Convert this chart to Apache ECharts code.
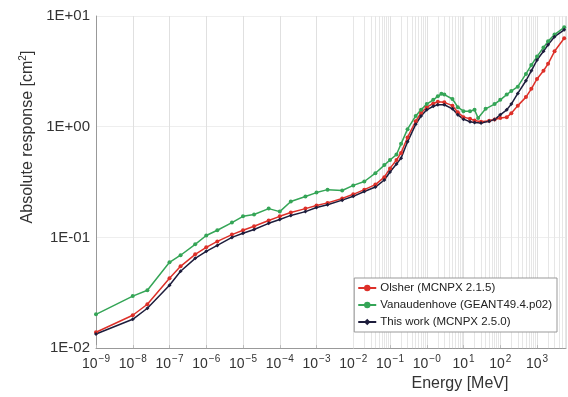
<!DOCTYPE html>
<html>
<head>
<meta charset="utf-8">
<script src="https://cdn.jsdelivr.net/npm/echarts@6/dist/echarts.min.js"></script>
<style>
html, body { margin: 0; padding: 0; background: #fff; }
#chart { width: 568px; height: 397px; }
</style>
</head>
<body>
<div id="chart"></div>
<script>
// energies in MeV, responses in cm^2
var energyLow = [1e-9, 1e-8, 2.5e-8, 1e-7, 2e-7, 5e-7, 1e-6, 2e-6, 5e-6, 1e-5, 2e-5, 5e-5, 1e-4, 2e-4, 5e-4, 1e-3,
                 2e-3, 5e-3, 1e-2, 2e-2, 4e-2, 7e-2, 0.1, 0.15, 0.2, 0.3, 0.5, 0.7, 1, 1.5, 2, 3, 5, 7, 10, 15, 20, 30, 50, 70,
                 100, 150, 200, 300, 500, 700, 1000, 1500, 2000, 3000, 5500];
var olsher = [0.0139, 0.0198, 0.0249, 0.0428, 0.0548, 0.0703, 0.0813, 0.092, 0.106, 0.116, 0.126, 0.142, 0.155, 0.168, 0.182, 0.194,
              0.205, 0.225, 0.245, 0.27, 0.30, 0.35, 0.42, 0.50, 0.58, 0.80, 1.12, 1.33, 1.5, 1.62, 1.68, 1.66, 1.55, 1.35, 1.22, 1.18, 1.14, 1.11, 1.13, 1.16,
              1.2, 1.22, 1.32, 1.55, 1.85, 2.2, 2.7, 3.2, 3.7, 4.8, 6.3];
var thisWork = [0.0134, 0.0182, 0.0229, 0.037, 0.0494, 0.0647, 0.0748, 0.0847, 0.100, 0.109, 0.118, 0.134, 0.145, 0.158, 0.171, 0.186,
                0.197, 0.217, 0.235, 0.26, 0.285, 0.33, 0.39, 0.46, 0.52, 0.73, 1.05, 1.25, 1.42, 1.53, 1.58, 1.58, 1.45, 1.28, 1.17, 1.11, 1.09, 1.08, 1.12, 1.16,
                1.28, 1.42, 1.6, 2.0, 2.6, 3.2, 4.0, 4.8, 5.5, 6.5, 7.5];

var energyGeant = [1e-9, 1e-8, 2.5e-8, 1e-7, 2e-7, 5e-7, 1e-6, 2e-6, 5e-6, 1e-5, 2e-5, 5e-5, 1e-4, 2e-4, 5e-4, 1e-3,
                   2e-3, 5e-3, 1e-2, 2e-2, 4e-2, 7e-2, 0.1, 0.15, 0.2, 0.3, 0.5, 0.7, 1, 1.5, 2, 2.5, 3, 5, 7, 10, 15, 20, 25, 40, 70,
                   100, 150, 200, 300, 500, 700, 1000, 1500, 2000, 3000, 5500];
var vanaudenhove = [0.0202, 0.0295, 0.0333, 0.0596, 0.069, 0.0865, 0.104, 0.116, 0.136, 0.155, 0.161, 0.182, 0.171, 0.211, 0.234, 0.254,
                    0.27, 0.265, 0.295, 0.32, 0.38, 0.45, 0.50, 0.56, 0.70, 0.95, 1.25, 1.42, 1.6, 1.75, 1.88, 1.98, 1.95, 1.78, 1.5, 1.38, 1.38, 1.42, 1.2, 1.45, 1.6,
                    1.75, 1.95, 2.1, 2.3, 3.0, 3.6, 4.3, 5.2, 5.9, 6.8, 7.9];

var seriesNames = ['Olsher (MCNPX 2.1.5)', 'Vanaudenhove (GEANT49.4.p02)', 'This work (MCNPX 2.5.0)'];
var seriesColors = ['#dd3029', '#35a557', '#1d1d3c'];

function pairs(xs, ys) {
    var out = [];
    for (var i = 0; i < xs.length; i++) out.push([xs[i], ys[i]]);
    return out;
}

// light vertical lines at 2..9 of every decade
var minorLines = [];
for (var p = -9; p <= 3; p++) {
    for (var k = 2; k <= 9; k++) {
        var v = k * Math.pow(10, p);
        if (v < 6150) minorLines.push({xAxis: v});
    }
}

var chart = echarts.init(document.getElementById('chart'));

function lineSeries(name, data, color, symbol) {
    return {
        name: name,
        type: 'line',
        data: data,
        z: 5,
        symbol: symbol,
        symbolSize: 4,
        showSymbol: true,
        color: color,
        lineStyle: {width: 1.5, color: color},
        itemStyle: {color: color}
    };
}

var option = {
    animation: false,
    backgroundColor: '#fff',
    textStyle: {fontFamily: 'Liberation Sans, Arial, sans-serif'},
    grid: {left: 96, right: 2, top: 16, bottom: 48},
    legend: {
        data: seriesNames,
        orient: 'vertical',
        right: 11,
        top: 278,
        padding: [4, 5, 4, 3],
        itemGap: 5,
        itemWidth: 18,
        itemHeight: 8,
        borderColor: '#999',
        borderWidth: 1,
        backgroundColor: '#fff',
        textStyle: {fontSize: 11.5, color: '#222', padding: [0, 0, 0, -1]}
    },
    xAxis: {
        type: 'log',
        logBase: 10,
        min: 1e-9,
        max: 6150,
        interval: 1,
        splitNumber: 13,
        name: 'Energy [MeV]',
        nameLocation: 'middle',
        nameGap: 27,
        nameTextStyle: {fontSize: 16, color: '#333', padding: [0, 0, 0, 258]},
        axisLine: {lineStyle: {color: '#999'}},
        axisTick: {show: true, inside: true, length: 3, lineStyle: {color: '#bbb'}},
        splitLine: {show: true, lineStyle: {color: '#e0e0e0'}},
        axisLabel: {
            color: '#333',
            margin: 6,
            showMaxLabel: false,
            formatter: function (v) {
                var e = Math.round(Math.log10(v));
                var s = e < 0 ? '\u2212' + (-e) : (e === 0 ? '\u22120' : '' + e);
                return '{b|10}{s|' + s + '}';
            },
            rich: {
                b: {fontSize: 14, color: '#333', verticalAlign: 'bottom'},
                s: {fontSize: 10, color: '#333', verticalAlign: 'bottom', padding: [0, 0, 7, 1]}
            }
        }
    },
    yAxis: {
        type: 'log',
        logBase: 10,
        min: 0.01,
        max: 10,
        name: '{a|Absolute response [cm}{s|2}{a|]}',
        nameLocation: 'middle',
        nameGap: 60,
        nameTextStyle: {
            padding: [0, 0, 0, 90],
            rich: {
                a: {fontSize: 16, color: '#333', verticalAlign: 'bottom'},
                s: {fontSize: 10, color: '#333', verticalAlign: 'bottom', padding: [0, 0, 7, 0]}
            }
        },
        axisLine: {show: true, lineStyle: {color: '#999'}},
        axisTick: {show: false},
        splitLine: {show: true, lineStyle: {color: '#eeeeee'}},
        axisLabel: {
            color: '#333',
            fontSize: 15,
            margin: 6,
            formatter: function (v) {
                var e = Math.round(Math.log10(v));
                var a = Math.abs(e);
                return '1E' + (e < 0 ? '-' : '+') + (a < 10 ? '0' : '') + a;
            }
        }
    },
    series: [
        {
            name: 'grid',
            type: 'line',
            data: [],
            z: 1,
            silent: true,
            markLine: {
                silent: true,
                z: 1,
                symbol: 'none',
                label: {show: false},
                lineStyle: {color: '#e6e6e6', type: 'solid', width: 1},
                data: minorLines
            }
        },
        lineSeries(seriesNames[0], pairs(energyLow, olsher), seriesColors[0], 'circle'),
        lineSeries(seriesNames[1], pairs(energyGeant, vanaudenhove), seriesColors[1], 'circle'),
        lineSeries(seriesNames[2], pairs(energyLow, thisWork), seriesColors[2], 'diamond')
    ]
};
chart.setOption(option);
</script>
</body>
</html>
